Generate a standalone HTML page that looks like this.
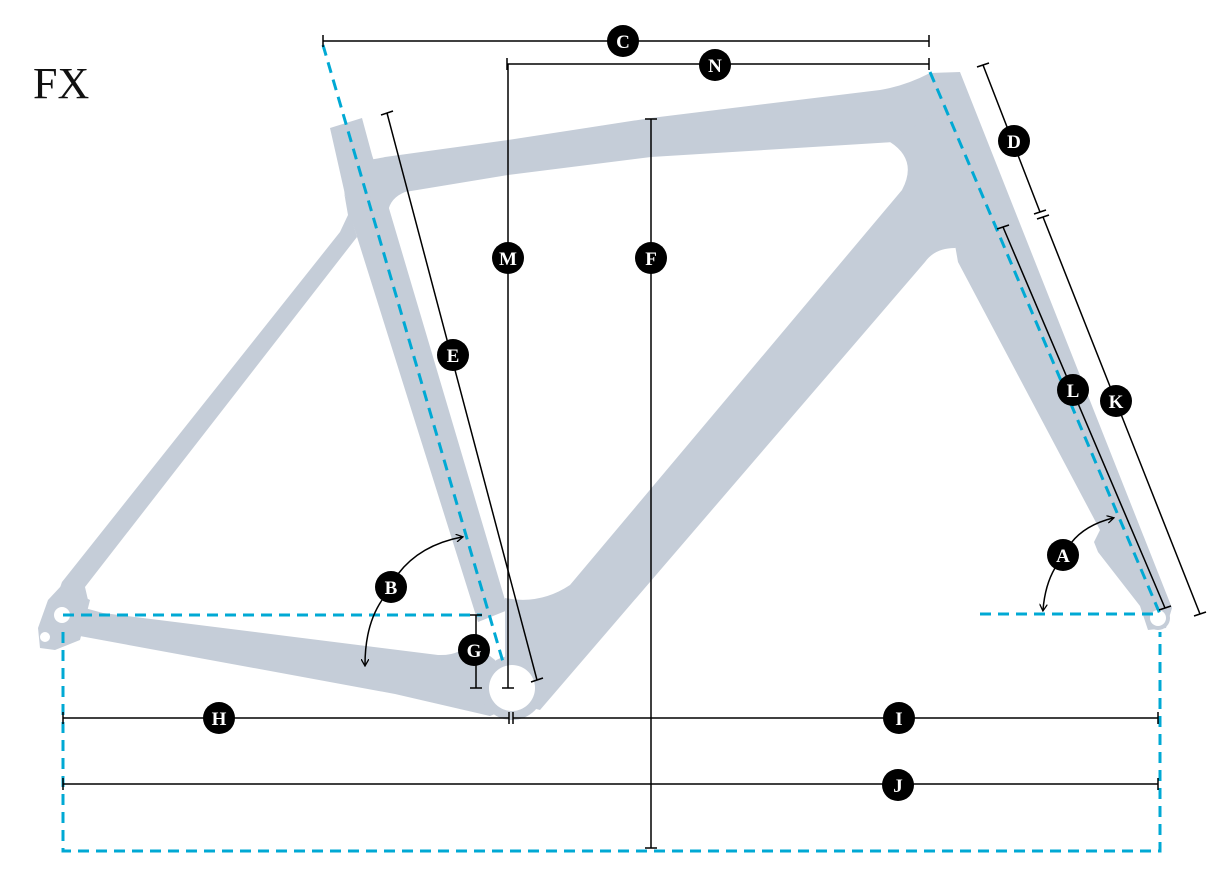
<!DOCTYPE html>
<html><head><meta charset="utf-8"><style>
html,body{margin:0;padding:0;background:#fff;}
svg{display:block;}
text{font-family:"Liberation Serif",serif;}
</style></head><body>
<svg width="1217" height="883" viewBox="0 0 1217 883" xmlns="http://www.w3.org/2000/svg">
<defs>
<marker id="ar" markerWidth="8" markerHeight="8" refX="6" refY="4" orient="auto" markerUnits="userSpaceOnUse">
<path d="M0,0 L7,4 L0,8" fill="none" stroke="#000" stroke-width="1.3"/>
</marker>
</defs>
<text x="33" y="98" font-size="44" fill="#111">FX</text>
<g fill="#c5cdd8">
<polygon points="330,128 362,118 372,155 388,205 508,610 478,622 347,205 344,190"/>
<path d="M365,160 Q372,160 385,157 L508,140 L651,118 L880,90 Q905,86 930,73 L940,140 L894,142 L651,157 L508,175 L405,192 Q390,198 388,212 L372,205 Z"/>
<polygon points="930,73 960,72 1172,608 1166,628 1148,630 1140,606 1098,552 1094,542 1100,530 958,262 955,245 915,175"/>
<path d="M890,142 L940,110 L1000,220 L955,248 Q935,248 925,262 L540,710 L505,700 L505,598 Q540,605 570,585 L902,190 Q918,160 890,142 Z"/>
<path d="M344,192 L348,215 L340,232 L62,582 L55,602 L88,600 L85,587 L357,237 Z"/>
<path d="M70,604 L103,613 L438,655 Q462,656 470,640 L495,660 L505,710 L490,716 L395,694 L58,632 Z"/>
<path d="M62,585 L90,600 L80,640 L55,650 L40,648 L38,628 L48,600 Z"/>
<circle cx="512" cy="688" r="32"/>
<circle cx="1158" cy="618" r="12"/>
</g>
<g fill="#fff">
<circle cx="62" cy="615" r="8"/>
<circle cx="45" cy="637" r="5"/>
<circle cx="512" cy="688" r="23"/>
<circle cx="1158" cy="618" r="8"/>
</g>
<g stroke="#00a9d4" stroke-width="3" stroke-dasharray="11,7" fill="none">
<line x1="323" y1="45" x2="503" y2="662"/>
<line x1="930" y1="72" x2="1160" y2="614"/>
<line x1="63" y1="615" x2="482" y2="615"/>
<line x1="980" y1="614" x2="1160" y2="614"/>
<polyline points="63,632 63,851 1160,851 1160,632"/>
</g>
<g stroke="#000" stroke-width="1.5" fill="none">
<line x1="323" y1="41" x2="929" y2="41"/><line x1="323" y1="35" x2="323" y2="47"/><line x1="929" y1="35" x2="929" y2="47"/>
<line x1="507" y1="64" x2="929" y2="64"/><line x1="507" y1="58" x2="507" y2="70"/><line x1="929" y1="58" x2="929" y2="70"/>
<line x1="508" y1="64" x2="508" y2="688"/><line x1="502" y1="688" x2="514" y2="688"/>
<line x1="651" y1="119" x2="651" y2="848"/><line x1="645" y1="119" x2="657" y2="119"/><line x1="645" y1="848" x2="657" y2="848"/>
<line x1="387" y1="113" x2="537" y2="680"/><line x1="381" y1="115" x2="393" y2="111"/><line x1="531" y1="682" x2="543" y2="678"/>
<line x1="983" y1="65" x2="1040" y2="212"/><line x1="977" y1="67" x2="989" y2="63"/><line x1="1034" y1="214" x2="1046" y2="210"/>
<line x1="1043" y1="217" x2="1200" y2="614"/><line x1="1037" y1="219" x2="1049" y2="215"/><line x1="1194" y1="616" x2="1206" y2="612"/>
<line x1="1003" y1="227" x2="1165" y2="608"/><line x1="997" y1="229" x2="1009" y2="225"/><line x1="1159" y1="610" x2="1171" y2="606"/>
<line x1="476" y1="615" x2="476" y2="688"/><line x1="470" y1="615" x2="482" y2="615"/><line x1="470" y1="688" x2="482" y2="688"/>
<line x1="63" y1="718" x2="509" y2="718"/><line x1="63" y1="712" x2="63" y2="724"/><line x1="509" y1="712" x2="509" y2="724"/>
<line x1="513" y1="718" x2="1158" y2="718"/><line x1="513" y1="712" x2="513" y2="724"/><line x1="1158" y1="712" x2="1158" y2="724"/>
<line x1="63" y1="784" x2="1158" y2="784"/><line x1="63" y1="778" x2="63" y2="790"/><line x1="1158" y1="778" x2="1158" y2="790"/>
<path d="M398,574 Q420,545 462,537" marker-end="url(#ar)"/>
<path d="M382,600 Q365,625 365,665" marker-end="url(#ar)"/>
<path d="M1071,543 Q1085,525 1113,518" marker-end="url(#ar)"/>
<path d="M1055,568 Q1045,585 1043,610" marker-end="url(#ar)"/>
</g>
<g font-size="19" font-weight="bold" fill="#fff" text-anchor="middle">
<g><circle cx="623" cy="41" r="16" fill="#000"/><text x="623" y="48">C</text></g>
<g><circle cx="715" cy="65" r="16" fill="#000"/><text x="715" y="72">N</text></g>
<g><circle cx="508" cy="258" r="16" fill="#000"/><text x="508" y="265">M</text></g>
<g><circle cx="651" cy="258" r="16" fill="#000"/><text x="651" y="265">F</text></g>
<g><circle cx="453" cy="355" r="16" fill="#000"/><text x="453" y="362">E</text></g>
<g><circle cx="1014" cy="141" r="16" fill="#000"/><text x="1014" y="148">D</text></g>
<g><circle cx="1073" cy="390" r="16" fill="#000"/><text x="1073" y="397">L</text></g>
<g><circle cx="1116" cy="401" r="16" fill="#000"/><text x="1116" y="408">K</text></g>
<g><circle cx="391" cy="587" r="16" fill="#000"/><text x="391" y="594">B</text></g>
<g><circle cx="1063" cy="555" r="16" fill="#000"/><text x="1063" y="562">A</text></g>
<g><circle cx="474" cy="650" r="16" fill="#000"/><text x="474" y="657">G</text></g>
<g><circle cx="219" cy="718" r="16" fill="#000"/><text x="219" y="725">H</text></g>
<g><circle cx="899" cy="718" r="16" fill="#000"/><text x="899" y="725">I</text></g>
<g><circle cx="898" cy="785" r="16" fill="#000"/><text x="898" y="792">J</text></g>
</g>
</svg>
</body></html>
